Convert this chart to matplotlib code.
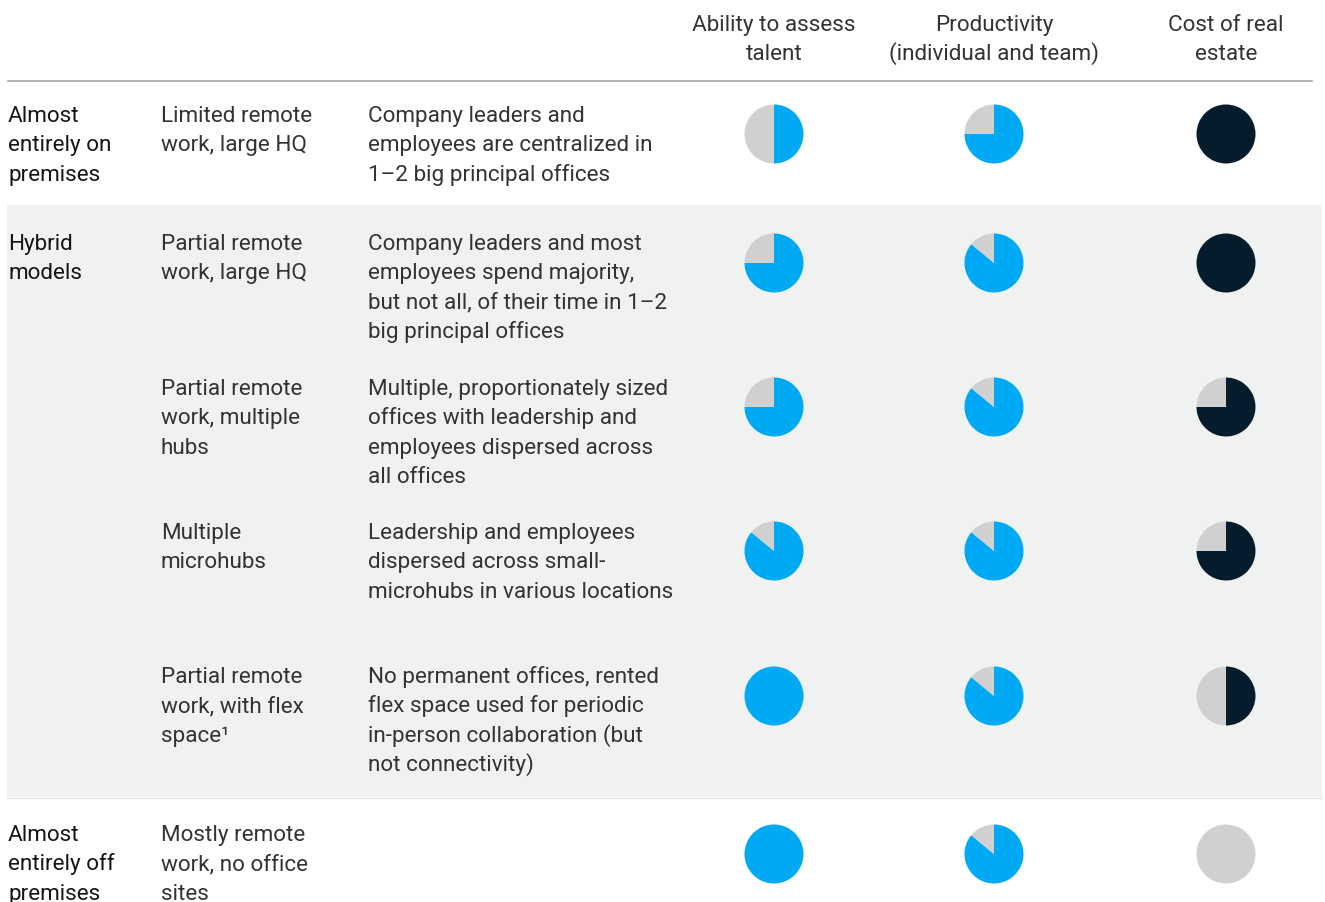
import matplotlib.pyplot as plt
from matplotlib.patches import Wedge, Rectangle

plt.rcParams['font.family'] = ['Roboto', 'DejaVu Sans']

# header of the three rating columns
headers = [["Ability to assess", "talent"],
           ["Productivity", "(individual and team)"],
           ["Cost of real", "estate"]]

# first column: model group (only on first row of the group)
groups = [["Almost", "entirely on", "premises"],
          ["Hybrid", "models"],
          [], [], [],
          ["Almost", "entirely off", "premises"]]

setups = [["Limited remote", "work, large HQ"],
          ["Partial remote", "work, large HQ"],
          ["Partial remote", "work, multiple", "hubs"],
          ["Multiple", "microhubs"],
          ["Partial remote", "work, with flex", "space\u00b9"],
          ["Mostly remote", "work, no office", "sites"]]

descriptions = [["Company leaders and", "employees are centralized in", "1\u20132 big principal offices"],
                ["Company leaders and most", "employees spend majority,", "but not all, of their time in 1\u20132",
                 "big principal offices"],
                ["Multiple, proportionately sized", "offices with leadership and",
                 "employees dispersed across", "all offices"],
                ["Leadership and employees", "dispersed across small-", "microhubs in various locations"],
                ["No permanent offices, rented", "flex space used for periodic",
                 "in-person collaboration (but", "not connectivity)"],
                []]

# filled share of each ball
talent = [0.5, 0.75, 0.75, 0.86, 1.0, 1.0]
productivity = [0.75, 0.86, 0.86, 0.86, 0.86, 0.86]
cost = [1.0, 1.0, 0.75, 0.75, 0.5, 0.0]

BLUE = '#00a9f4'
NAVY = '#051c2c'
GREY = '#d0d0d0'
TEXT = '#333333'

W, H = 1325, 902
fig = plt.figure(figsize=(W / 100, H / 100), dpi=100)
ax = fig.add_axes([0, 0, 1, 1])
ax.set_xlim(0, W)
ax.set_ylim(0, H)
ax.axis('off')

def Y(px):
    return H - px

# layout (pixel positions)
text_x = [8, 161, 368]
col_x = [774, 994, 1226]
row_base = [122, 250, 395, 539, 683, 841]
pie_y = [134, 263, 407, 551, 696, 854]
line_h = 29.3
r = 29.5
fs = 16.2

# hybrid band
ax.add_patch(Rectangle((7, Y(797)), 1315, 592, facecolor='#f0f2f2', edgecolor='none', zorder=0))
ax.plot([7, 1322], [Y(797.5), Y(797.5)], color='#e2e4e4', lw=1, zorder=0)

# header rule
ax.plot([8, 1312], [Y(81), Y(81)], color='#a8a8a8', lw=1.2)

for cx, lines in zip(col_x, headers):
    for k, s in enumerate(lines):
        ax.text(cx, Y(31 + k * line_h), s, ha='center', va='baseline', fontsize=fs, color=TEXT)

for i in range(len(setups)):
    for c, lines in enumerate([groups[i], setups[i], descriptions[i]]):
        for k, s in enumerate(lines):
            ax.text(text_x[c], Y(row_base[i] + k * line_h), s, ha='left', va='baseline',
                    fontsize=fs, color='#151515' if c == 0 else TEXT)

def ball(cx, cy, frac, color):
    if frac > 0:
        ax.add_patch(Wedge((cx, cy), r, 90 - frac * 360, 90, facecolor=color, edgecolor='none', zorder=2))
    if frac < 1:
        ax.add_patch(Wedge((cx, cy), r, 90 - 360, 90 - frac * 360, facecolor=GREY, edgecolor='none', zorder=2))

for i in range(len(setups)):
    ball(col_x[0], Y(pie_y[i]), talent[i], BLUE)
    ball(col_x[1], Y(pie_y[i]), productivity[i], BLUE)
    ball(col_x[2], Y(pie_y[i]), cost[i], NAVY)

fig.savefig('out.png', dpi=100)
